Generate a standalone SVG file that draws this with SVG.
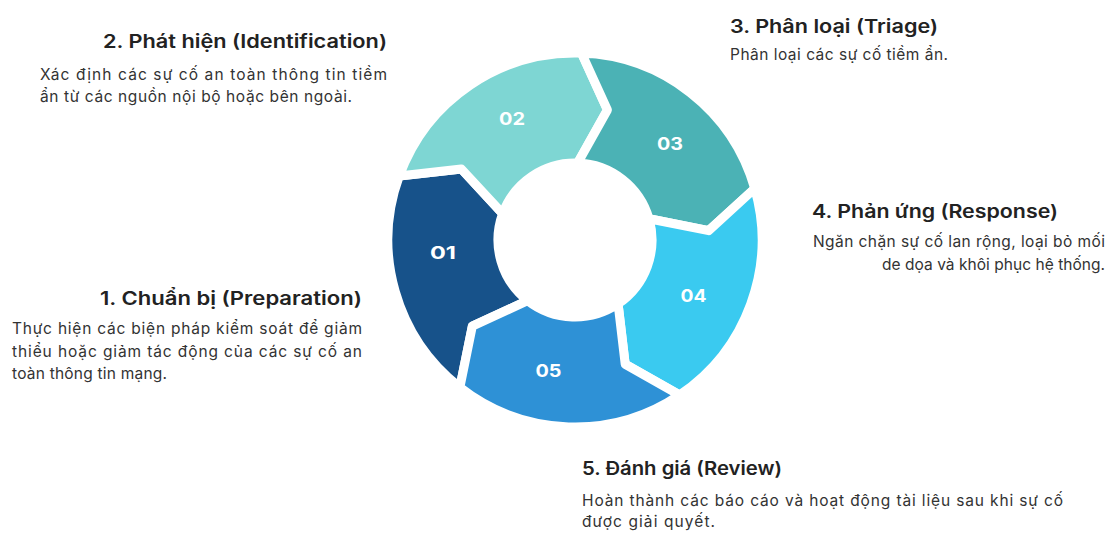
<svg xmlns="http://www.w3.org/2000/svg" width="1113" height="534" viewBox="0 0 1113 534">
<style>
.seg{stroke:#ffffff;stroke-width:9;stroke-linejoin:round}
.num{font-family:Inter,"Liberation Sans",sans-serif;font-weight:700;font-size:17.5px;fill:#ffffff;text-anchor:middle}
.title{font-family:Inter,"Liberation Sans",sans-serif;font-weight:600;font-size:18.5px;fill:#222222}
.body{font-family:Inter,"Liberation Sans",sans-serif;font-weight:400;font-size:15.5px;fill:#333333}
</style>
<rect width="1113" height="534" fill="#ffffff"/>
<g id="step-1">
<path class="seg" fill="#17528a" d="M459.87,387.36 A187,187 0 0 1 399.28,176.04 L461.36,168.99 L502.64,213.66 A77,77 0 0 0 527.59,300.68 L472.35,326.13 Z"/>
<text class="num" x="443" y="258.5" textLength="26" lengthAdjust="spacingAndGlyphs">01</text>
<text class="title" x="100" y="305" textLength="262" lengthAdjust="spacingAndGlyphs">1. Chuẩn bị (Preparation)</text>
<text class="body" x="12" y="334" textLength="350" lengthAdjust="spacing">Thực hiện các biện pháp kiểm soát để giảm</text>
<text class="body" x="12" y="357" textLength="350" lengthAdjust="spacing">thiểu hoặc giảm tác động của các sự cố an</text>
<text class="body" x="12" y="379" textLength="155" lengthAdjust="spacing">toàn thông tin mạng.</text>
</g>
<g id="step-2">
<path class="seg" fill="#7ed6d3" d="M399.28,176.04 A187,187 0 0 1 581.53,53.11 L607.42,109.98 L577.69,163.05 A77,77 0 0 0 502.64,213.66 L461.36,168.99 Z"/>
<text class="num" x="512" y="125" textLength="26" lengthAdjust="spacingAndGlyphs">02</text>
<text class="title" x="103" y="48" textLength="284" lengthAdjust="spacingAndGlyphs">2. Phát hiện (Identification)</text>
<text class="body" x="40" y="80" textLength="347" lengthAdjust="spacing">Xác định các sự cố an toàn thông tin tiềm</text>
<text class="body" x="40" y="102" textLength="312" lengthAdjust="spacing">ẩn từ các nguồn nội bộ hoặc bên ngoài.</text>
</g>
<g id="step-3">
<path class="seg" fill="#4bb2b5" d="M581.53,53.11 A187,187 0 0 1 754.76,188.46 L708.67,230.65 L649.02,218.78 A77,77 0 0 0 577.69,163.05 L607.42,109.98 Z"/>
<text class="num" x="670" y="150" textLength="26" lengthAdjust="spacingAndGlyphs">03</text>
<text class="title" x="730" y="33" textLength="208" lengthAdjust="spacingAndGlyphs">3. Phân loại (Triage)</text>
<text class="body" x="730" y="60" textLength="218" lengthAdjust="spacing">Phân loại các sự cố tiềm ẩn.</text>
</g>
<g id="step-4">
<path class="seg" fill="#3acaf0" d="M754.76,188.46 A187,187 0 0 1 679.57,395.03 L625.20,364.24 L618.06,303.84 A77,77 0 0 0 649.02,218.78 L708.67,230.65 Z"/>
<text class="num" x="693.5" y="301.5" textLength="26" lengthAdjust="spacingAndGlyphs">04</text>
<text class="title" x="812" y="218" textLength="246" lengthAdjust="spacingAndGlyphs">4. Phản ứng (Response)</text>
<text class="body" x="813" y="247" textLength="292" lengthAdjust="spacing">Ngăn chặn sự cố lan rộng, loại bỏ mối</text>
<text class="body" x="882" y="270" textLength="223" lengthAdjust="spacing">de dọa và khôi phục hệ thống.</text>
</g>
<g id="step-5">
<path class="seg" fill="#2e91d6" d="M679.57,395.03 A187,187 0 0 1 459.87,387.36 L472.35,326.13 L527.59,300.68 A77,77 0 0 0 618.06,303.84 L625.20,364.24 Z"/>
<text class="num" x="548.5" y="376.5" textLength="26" lengthAdjust="spacingAndGlyphs">05</text>
<text class="title" x="582" y="475" textLength="200" lengthAdjust="spacingAndGlyphs">5. Đánh giá (Review)</text>
<text class="body" x="582" y="506" textLength="481" lengthAdjust="spacing">Hoàn thành các báo cáo và hoạt động tài liệu sau khi sự cố</text>
<text class="body" x="582" y="527" textLength="133" lengthAdjust="spacing">được giải quyết.</text>
</g>
</svg>
